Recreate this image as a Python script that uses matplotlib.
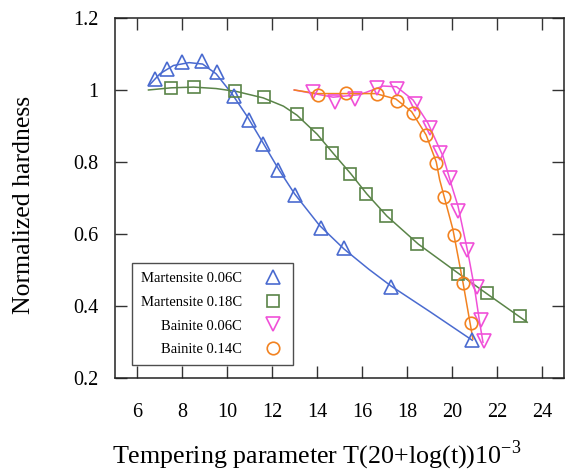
import matplotlib
matplotlib.use("Agg")
import matplotlib.pyplot as plt
from matplotlib.ticker import FormatStrFormatter

# marker data
mart006_x = [6.76, 7.31, 8.00, 8.89, 9.56, 10.31, 10.96, 11.60, 12.27, 13.00, 14.16, 15.19, 17.28, 20.89]
mart006_y = [1.030, 1.058, 1.078, 1.080, 1.049, 0.983, 0.917, 0.851, 0.777, 0.707, 0.617, 0.560, 0.454, 0.305]

mart018_x = [7.48, 8.53, 10.34, 11.63, 13.08, 13.97, 14.68, 15.45, 16.16, 17.08, 18.46, 20.27, 21.56, 23.04]
mart018_y = [1.005, 1.009, 0.998, 0.980, 0.934, 0.878, 0.825, 0.768, 0.710, 0.650, 0.571, 0.490, 0.435, 0.371]

bain006_x = [13.82, 14.79, 15.68, 16.64, 17.57, 18.34, 19.01, 19.45, 19.90, 20.27, 20.68, 21.13, 21.31, 21.42]
bain006_y = [0.995, 0.968, 0.974, 1.005, 1.002, 0.961, 0.894, 0.825, 0.756, 0.664, 0.556, 0.454, 0.361, 0.304]

bain014_x = [14.04, 15.26, 16.64, 17.56, 18.27, 18.86, 19.31, 19.64, 20.08, 20.49, 20.86]
bain014_y = [0.986, 0.993, 0.989, 0.970, 0.936, 0.876, 0.797, 0.703, 0.596, 0.463, 0.353]

# fitted curves
fit_m006_x = [6.55, 7.0, 7.6, 8.3, 8.9, 9.5, 10.2, 10.9, 11.6, 12.3, 13.0, 14.1, 15.2, 16.3, 17.3, 19.0, 20.9]
fit_m006_y = [1.015, 1.045, 1.068, 1.076, 1.072, 1.045, 0.990, 0.925, 0.852, 0.778, 0.711, 0.624, 0.558, 0.502, 0.455, 0.385, 0.305]

fit_m018_x = [6.49, 7.5, 8.5, 9.5, 10.4, 11.6, 12.5, 13.1, 14.0, 14.7, 15.5, 16.2, 17.1, 18.5, 20.3, 21.6, 23.35]
fit_m018_y = [1.000, 1.006, 1.008, 1.004, 0.996, 0.978, 0.955, 0.930, 0.877, 0.825, 0.767, 0.712, 0.650, 0.572, 0.490, 0.432, 0.355]

fit_b006_x = [12.98, 14.71, 15.90, 16.93, 17.53, 18.27, 18.93, 19.60, 20.04, 20.27, 20.71, 21.01, 21.23, 21.38]
fit_b006_y = [1.000, 0.980, 0.987, 1.011, 1.009, 0.972, 0.908, 0.816, 0.723, 0.677, 0.548, 0.447, 0.355, 0.299]

fit_b014_x = [12.98, 14.0, 15.3, 16.6, 17.5, 18.2, 18.85, 19.3, 19.45, 20.04, 20.49, 20.93]
fit_b014_y = [1.000, 0.990, 0.990, 0.990, 0.975, 0.940, 0.875, 0.800, 0.751, 0.613, 0.465, 0.308]

labels = ["Martensite 0.06C", "Martensite 0.18C", "Bainite 0.06C", "Bainite 0.14C"]
colors = ["#4a6bd0", "#5a8448", "#f050d8", "#f28220"]

plt.rcParams["font.family"] = ["Liberation Serif", "DejaVu Serif"]
plt.rcParams["mathtext.fontset"] = "custom"
plt.rcParams["mathtext.rm"] = "Liberation Serif"

fig = plt.figure(figsize=(5.71, 4.73), dpi=100)
ax = fig.add_axes([0.2014, 0.2008, 0.7869, 0.7612])

ax.plot(fit_m006_x, fit_m006_y, color=colors[0], lw=1.1)
ax.plot(fit_m018_x, fit_m018_y, color=colors[1], lw=1.1)
ax.plot(fit_b006_x, fit_b006_y, color=colors[2], lw=1.1)
ax.plot(fit_b014_x, fit_b014_y, color=colors[3], lw=1.1)

ax.plot(mart006_x, mart006_y, ls="none", marker="^", ms=10, mfc="none", mec=colors[0], mew=1.2, label=labels[0])
ax.plot(mart018_x, mart018_y, ls="none", marker="s", ms=9, mfc="none", mec=colors[1], mew=1.2, label=labels[1])
ax.plot(bain006_x, bain006_y, ls="none", marker="v", ms=10, mfc="none", mec=colors[2], mew=1.2, label=labels[2])
ax.plot(bain014_x, bain014_y, ls="none", marker="o", ms=9, mfc="none", mec=colors[3], mew=1.2, label=labels[3])

ax.set_xlim(5, 25)
ax.set_ylim(0.2, 1.2)
ax.set_xticks(range(6, 25, 2))
ax.set_yticks([0.2, 0.4, 0.6, 0.8, 1.0, 1.2])
ax.yaxis.set_major_formatter(FormatStrFormatter("%g"))
ax.tick_params(direction="in", length=8.5, width=1, color="#333333",
               top=True, right=True, labelsize=14.5)
ax.tick_params(axis="x", pad=18)
ax.tick_params(axis="y", pad=12)
for s in ax.spines.values():
    s.set_linewidth(1.1)
    s.set_color("#222222")

ax.set_xlabel("Tempering parameter T(20+log(t))10$^{-3}$", fontsize=18.7, va="center")
ax.xaxis.set_label_coords(0.448, -0.215)
ax.set_ylabel("Normalized hardness", fontsize=18.5, va="center")
ax.yaxis.set_label_coords(-0.203, 0.48)

leg = ax.legend(loc="lower left", bbox_to_anchor=(0.038, 0.036), borderaxespad=0,
                markerfirst=False, fontsize=10.5, frameon=True, fancybox=False,
                edgecolor="#222222", handlelength=1.5, labelspacing=0.72,
                borderpad=0.6, handletextpad=1.4)
leg.get_frame().set_linewidth(1.0)

fig.savefig("out.png", dpi=100)
